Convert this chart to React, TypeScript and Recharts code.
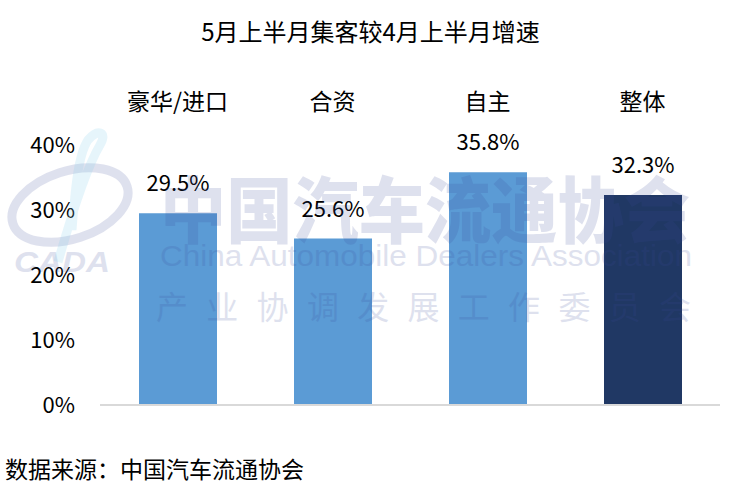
import React from "react";
import { Bar, BarChart, Cell, LabelList, ReferenceLine, XAxis, YAxis } from "recharts";

const categories = ["豪华/进口", "合资", "自主", "整体"];
const growth = [29.5, 25.6, 35.8, 32.3];
const barColours = ["#5B9BD5", "#5B9BD5", "#5B9BD5", "#203864"];
const yTicks = [0, 10, 20, 30, 40];

const chartTitle = "5月上半月集客较4月上半月增速";
const sourceNote = "数据来源：中国汽车流通协会";

const data = categories.map((name, i) => ({ name, value: growth[i] }));

const font = "'Noto Sans CJK SC', 'Noto Sans', sans-serif";

// faint association watermark drawn over the chart
function Watermark() {
  const wm = "#3A4A9A";
  return (
    <svg width={741} height={486} style={{ position: "absolute", left: 0, top: 0, pointerEvents: "none" }}>
      <g opacity={0.16}>
        <ellipse cx={70} cy={205} rx={60} ry={34} transform="rotate(-18 70 205)" fill="none" stroke={wm} strokeWidth={9} />
        <text x={14} y={272} fontFamily="'Liberation Sans', sans-serif" fontStyle="italic" fontWeight={700} fontSize={30}
          textLength={96} lengthAdjust="spacingAndGlyphs" fill={wm}>CADA</text>
        <text x={160} y={237} fontFamily={font} fontWeight={900} fontSize={72} textLength={530}
          lengthAdjust="spacingAndGlyphs" fill={wm}>中国汽车流通协会</text>
        <text x={160} y={266} fontFamily="'Liberation Sans', sans-serif" fontSize={29} textLength={532}
          lengthAdjust="spacingAndGlyphs" fill={wm}>China Automobile Dealers Association</text>
        <text x={156} y={319} fontFamily={font} fontSize={32} textLength={535}
          lengthAdjust="spacing" fill={wm}>产业协调发展工作委员会</text>
      </g>
      <g opacity={0.22}>
        <path d="M 58 262 C 70 220, 85 170, 100 145 C 108 132, 98 128, 88 140 C 78 155, 75 190, 72 230"
          fill="none" stroke="#8FD3EE" strokeWidth={9} />
      </g>
    </svg>
  );
}

export default function App() {
  return (
    <div style={{ position: "absolute", left: 0, top: 0, width: 741, height: 486, background: "#fff", fontFamily: font }}>
      <div style={{ position: "absolute", left: 0, top: 16, width: 741, textAlign: "center", fontSize: 24, color: "#000", lineHeight: "30px" }}>
        {chartTitle}
      </div>
      <BarChart width={741} height={486} data={data} margin={{ top: 105, right: 21, left: 0, bottom: 81 }}
        style={{ fontFamily: font }}>
        <XAxis dataKey="name" orientation="top" height={40} axisLine={false} tickLine={false} tickMargin={29}
          interval={0} tick={{ fontSize: 23, fill: "#000" }} />
        <YAxis width={100} domain={[0, 40]} ticks={yTicks} tickFormatter={(v: number) => v + "%"}
          axisLine={false} tickLine={false} tickMargin={19} tick={{ fontSize: 22, fill: "#000" }} />
        <ReferenceLine y={0} stroke="#D9D9D9" strokeWidth={2} />
        <Bar dataKey="value" barSize={78} isAnimationActive={false}>
          {data.map((d, idx) => (
            <Cell key={d.name} fill={barColours[idx]} />
          ))}
          <LabelList dataKey="value" position="top" offset={22} fill="#000" fontSize={22}
            formatter={(v: number) => v.toFixed(1) + "%"} />
        </Bar>
      </BarChart>
      <Watermark />
      <div style={{ position: "absolute", left: 5, top: 453, fontSize: 23, color: "#000", lineHeight: "30px" }}>
        {sourceNote}
      </div>
    </div>
  );
}
